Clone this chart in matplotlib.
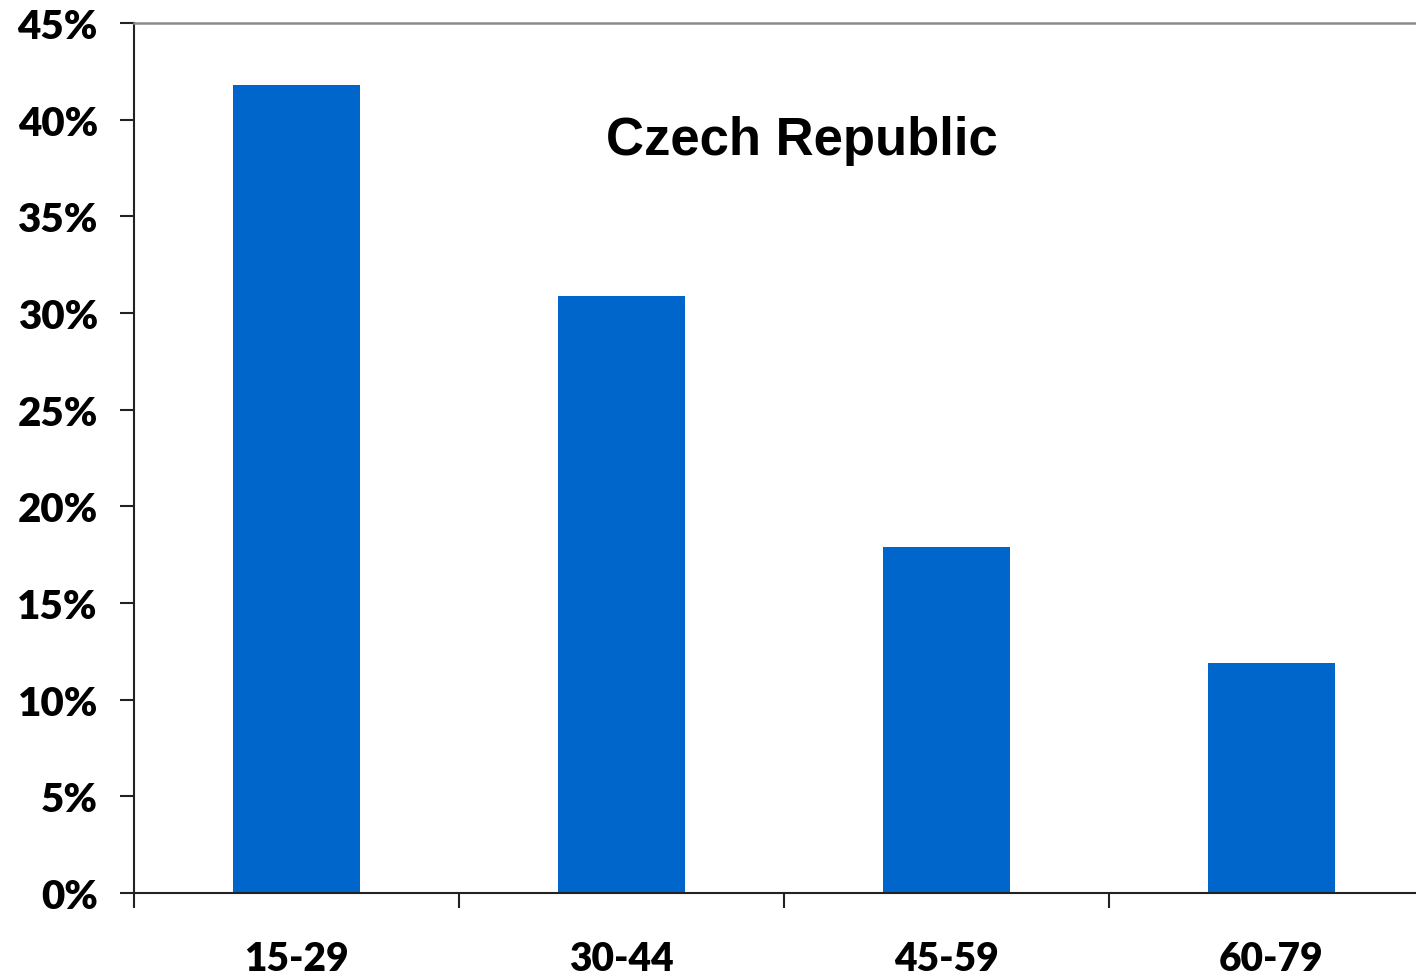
import numpy as np
import matplotlib.pyplot as plt
from matplotlib.ticker import FixedLocator, NullFormatter

# data
age_groups = ["15-29", "30-44", "45-59", "60-79"]
shares = [41.8, 30.9, 17.9, 11.9]
y_ticks = [0, 5, 10, 15, 20, 25, 30, 35, 40, 45]

fig = plt.figure(figsize=(14.16, 9.79), dpi=100)
ax = fig.add_axes([134 / 1416, 85 / 979, 1300 / 1416, 870 / 979])

x = np.arange(len(age_groups)) + 0.5
ax.bar(x, shares, width=0.39, color="#0066CC")

ax.set_xlim(0, len(age_groups))
ax.set_ylim(0, 45)

# x axis: ticks at group boundaries, labels centred under the bars
ax.xaxis.set_major_locator(FixedLocator(np.arange(len(age_groups))))
ax.xaxis.set_major_formatter(NullFormatter())
ax.xaxis.set_minor_locator(FixedLocator(x))
ax.set_xticklabels(age_groups, minor=True)
ax.tick_params(axis="x", which="major", direction="out", length=11, width=1.5, color="#222222")
ax.tick_params(axis="x", which="minor", length=0, pad=34, labelsize=28)
for lab in ax.get_xticklabels(minor=True):
    lab.set_fontweight("heavy")
    lab.set_family(["Lato", "DejaVu Sans"])

ax.set_yticks(y_ticks)
ax.set_yticklabels([f"{v}%" for v in y_ticks])
ax.tick_params(axis="y", direction="out", length=10, width=1.5, color="#222222", pad=16, labelsize=29)
for lab in ax.get_yticklabels():
    lab.set_fontweight("heavy")
    lab.set_family(["Lato", "DejaVu Sans"])

for side in ["left", "bottom"]:
    ax.spines[side].set_color("#222222")
    ax.spines[side].set_linewidth(1.5)
ax.spines["top"].set_color("#8a8a8a")
ax.spines["top"].set_linewidth(1.8)
ax.spines["right"].set_visible(False)

ax.text(0.514, 0.866, "Czech Republic", transform=ax.transAxes, ha="center", va="center",
        fontsize=38, fontweight="bold", family=["Liberation Sans", "DejaVu Sans"])

fig.savefig("out.png", dpi=100)
